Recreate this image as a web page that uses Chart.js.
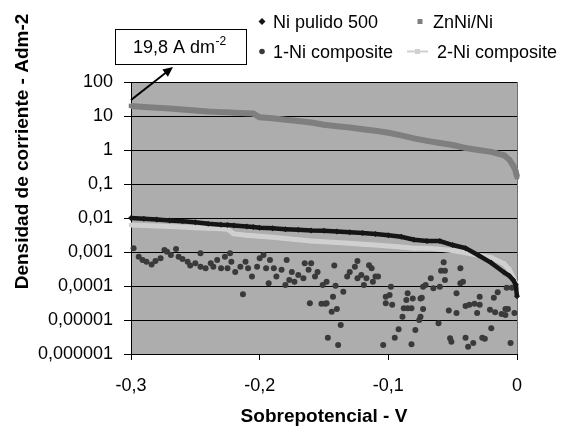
<!DOCTYPE html>
<html><head><meta charset="utf-8">
<script src="https://cdn.jsdelivr.net/npm/chart.js@4/dist/chart.umd.min.js"></script>
<style>html,body{margin:0;padding:0;background:#fff;}#wrap{width:563px;height:428px;}</style>
</head><body><div id="wrap"><canvas id="c" width="563" height="428"></canvas></div>
<script>
// ---------- data ----------
const potential = [-0.300,-0.290,-0.280,-0.270,-0.260,-0.250,-0.240,-0.230,-0.225,-0.220,-0.210,-0.205,-0.200,-0.190,-0.180,-0.170,-0.160,-0.150,-0.140,-0.130,-0.120,-0.110,-0.100,-0.090,-0.080,-0.070,-0.060,-0.050,-0.040,-0.030,-0.020,-0.010,-0.006,-0.003,-0.001,0.000];
const niPulido500 = [0.0100,0.0095,0.0090,0.0085,0.0080,0.0075,0.0068,0.0063,0.0062,0.0060,0.0056,0.0054,0.0052,0.0050,0.0047,0.0045,0.0043,0.0042,0.0040,0.0038,0.0036,0.0034,0.0031,0.0028,0.0023,0.0021,0.0021,0.0016,0.0013,0.0008,0.00048,0.00025,0.00020,0.00015,0.00011,0.00005];
const znNiNi = [19.8,18.5,17.5,16.5,15.5,14.5,13.5,13.0,12.8,12.5,12.0,11.8,9.2,8.6,7.8,7.1,6.4,5.5,5.0,4.6,4.1,3.7,3.2,2.7,2.2,1.85,1.6,1.4,1.15,1.0,0.88,0.70,0.52,0.35,0.24,0.16];
const niComposite2 = [0.0062,0.0060,0.0058,0.0056,0.0054,0.0052,0.0050,0.0048,0.0047,0.0034,0.0031,0.0030,0.0029,0.0027,0.0025,0.0023,0.0021,0.0020,0.0019,0.0018,0.0017,0.0016,0.0015,0.0014,0.0013,0.0013,0.0012,0.0011,0.00095,0.0008,0.00068,0.00045,0.00030,0.00018,0.00012,0.00009];
const comp1Potential = [-0.298,-0.294,-0.291,-0.288,-0.284,-0.281,-0.277,-0.274,-0.272,-0.269,-0.265,-0.263,-0.260,-0.256,-0.254,-0.250,-0.246,-0.246,-0.242,-0.238,-0.236,-0.233,-0.230,-0.227,-0.225,-0.223,-0.222,-0.219,-0.215,-0.211,-0.209,-0.206,-0.202,-0.200,-0.197,-0.195,-0.192,-0.189,-0.193,-0.187,-0.183,-0.179,-0.180,-0.177,-0.175,-0.173,-0.170,-0.166,-0.165,-0.162,-0.160,-0.157,-0.155,-0.151,-0.213,-0.161,-0.152,-0.149,-0.142,-0.148,-0.141,-0.135,-0.132,-0.130,-0.126,-0.124,-0.124,-0.121,-0.119,-0.117,-0.115,-0.113,-0.112,-0.110,-0.108,-0.098,-0.102,-0.099,-0.102,-0.097,-0.143,-0.148,-0.144,-0.140,-0.085,-0.086,-0.081,-0.088,-0.085,-0.082,-0.089,-0.075,-0.075,-0.076,-0.137,-0.147,-0.139,-0.104,-0.095,-0.092,-0.082,-0.079,-0.073,-0.057,-0.059,-0.056,-0.044,-0.067,-0.071,-0.065,-0.060,-0.056,-0.044,-0.047,-0.042,-0.074,-0.073,-0.053,-0.047,-0.040,-0.037,-0.033,-0.029,-0.029,-0.031,-0.021,-0.017,-0.018,-0.015,-0.012,-0.009,-0.007,-0.009,-0.002,-0.020,-0.061,-0.052,-0.051,-0.040,-0.034,-0.038,-0.027,-0.025,-0.005,-0.008,-0.004];
const comp1Current = [1.29e-3,7.3e-4,5.8e-4,5.2e-4,4.3e-4,5.4e-4,6.5e-4,1.15e-3,1.02e-3,8.2e-4,1.23e-3,7.3e-4,6.2e-4,5.2e-4,4.0e-4,4.7e-4,9.2e-4,3.7e-4,3.3e-4,4.7e-4,3.7e-4,5.8e-4,3.3e-4,7.3e-4,3.3e-4,9.2e-4,5.2e-4,2.6e-4,3.7e-4,5.2e-4,3.3e-4,1.9e-4,3.7e-4,6.5e-4,8.2e-4,3.3e-4,5.8e-4,3.3e-4,1.2e-4,1.9e-4,3.0e-4,5.8e-4,1.07e-4,1.5e-4,2.6e-4,1.34e-4,2.1e-4,1.7e-4,4.7e-4,3.0e-4,4.7e-4,1.9e-4,2.6e-4,1.07e-4,5.7e-5,3.1e-5,3.0e-5,3.0e-5,4.0e-4,1.34e-4,1.02e-4,6.8e-5,1.9e-4,2.6e-4,3.7e-4,5.4e-4,1.7e-4,2.1e-4,1.07e-4,1.7e-4,4.1e-4,3.3e-4,1.34e-4,1.9e-4,1.9e-4,9.5e-5,4.8e-5,5.4e-5,3.1e-5,2.8e-5,4.8e-5,3.1e-5,1.75e-5,2.1e-5,6.1e-5,3.9e-5,4.3e-5,2.2e-5,2.2e-5,2.2e-5,1.25e-5,4.3e-5,1.25e-5,1.0e-5,7.1e-6,3.0e-6,1.84e-6,1.84e-6,3.0e-6,5.3e-6,1.93e-6,5.1e-6,9.5e-5,5.0e-4,2.8e-4,2.8e-4,3.3e-4,1.7e-4,1.07e-4,8.6e-5,9.5e-5,1.5e-4,1.2e-4,6.1e-5,1.34e-4,4.5e-5,2.1e-5,1.9e-5,1.6e-5,2.6e-5,2.8e-5,3.0e-5,2.8e-5,4.8e-5,1.6e-5,2.0e-5,1.7e-5,4.5e-5,6.5e-5,1.5e-5,2.1e-5,2.1e-5,1.4e-5,1.6e-5,5.7e-6,8.0e-6,2.9e-6,2.3e-6,3.0e-6,2.1e-6,1.64e-6,3.0e-6,2.8e-6,2.1e-6,8.9e-5,8.9e-5];
const xTickValues = [-0.3,-0.2,-0.1,0];
const xTickLabels = ['-0,3','-0,2','-0,1','0'];
const yTickValues = [1e-6,1e-5,1e-4,1e-3,1e-2,1e-1,1,10,100];
const yTickLabels = ['0,000001','0,00001','0,0001','0,001','0,01','0,1','1','10','100'];
const seriesNames = ['Ni pulido 500','ZnNi/Ni','1-Ni composite','2-Ni composite'];
const xTitle = 'Sobrepotencial - V';
const yTitle = 'Densidad de corriente - Adm-2';
const annotationText = '19,8 A dm';
const annotationSup = '-2';
const annotatedPoint = {x: -0.3, y: 19.8};

// ---------- styling ----------
const FONT = '"Liberation Sans", Arial, sans-serif';
const colors = {pulido:'#151515', znni:'#7f7f7f', comp1:'#3a3a3a', comp2:'#d0d0d0'};

const pairs = (xs, ys) => xs.map((x, i) => ({x, y: ys[i]}));

const plotBg = {
  id: 'plotBg',
  beforeDraw(chart) {
    const {ctx, chartArea: a} = chart;
    ctx.save();
    ctx.fillStyle = '#fff';
    ctx.fillRect(0, 0, chart.width, chart.height);
    ctx.fillStyle = '#adadad';
    ctx.fillRect(a.left, a.top, a.right - a.left, a.bottom - a.top);
    ctx.restore();
  },
  beforeDatasetsDraw(chart) {
    const {ctx, chartArea: a} = chart;
    ctx.save();
    ctx.strokeStyle = '#6e6e6e';
    ctx.lineWidth = 1;
    ctx.beginPath();
    ctx.moveTo(Math.round(a.right) + 0.5, a.top);
    ctx.lineTo(Math.round(a.right) + 0.5, a.bottom);
    ctx.stroke();
    ctx.restore();
  }
};

const extras = {
  id: 'extras',
  afterDraw(chart) {
    const {ctx} = chart;
    const xs = chart.scales.x, ys = chart.scales.y;
    ctx.save();
    // y axis title
    ctx.save();
    ctx.translate(28.3, 151.5);
    ctx.rotate(-Math.PI / 2);
    ctx.font = 'bold 19px ' + FONT;
    ctx.fillStyle = '#000';
    ctx.textAlign = 'center';
    ctx.textBaseline = 'alphabetic';
    ctx.fillText(yTitle, 0, 0);
    ctx.restore();

    // legend
    ctx.font = '18px ' + FONT;
    ctx.fillStyle = '#000';
    ctx.textAlign = 'left';
    ctx.textBaseline = 'alphabetic';
    const rows = [27.5, 57.5];
    ctx.fillText(seriesNames[0], 273, rows[0]);
    ctx.fillText(seriesNames[1], 433, rows[0]);
    ctx.fillText(seriesNames[2], 273, rows[1]);
    ctx.fillText(seriesNames[3], 437, rows[1]);
    // markers
    const my0 = rows[0] - 6, my1 = rows[1] - 6;
    ctx.fillStyle = colors.pulido;
    ctx.beginPath();
    ctx.moveTo(262, my0 - 3.5); ctx.lineTo(265.5, my0); ctx.lineTo(262, my0 + 3.5); ctx.lineTo(258.5, my0);
    ctx.closePath(); ctx.fill();
    ctx.fillStyle = colors.znni;
    ctx.fillRect(417.5, my0 - 2.5, 5, 5);
    ctx.fillStyle = colors.comp1;
    ctx.beginPath(); ctx.arc(262, my1, 2.8, 0, Math.PI * 2); ctx.fill();
    ctx.strokeStyle = colors.comp2; ctx.lineWidth = 2;
    ctx.beginPath(); ctx.moveTo(407, my1); ctx.lineTo(428, my1); ctx.stroke();
    ctx.fillStyle = colors.comp2;
    ctx.fillRect(415, my1 - 2.5, 5, 5);

    // annotation box
    ctx.fillStyle = '#fff';
    ctx.fillRect(115.5, 29.5, 131, 35);
    ctx.strokeStyle = '#000'; ctx.lineWidth = 1;
    ctx.strokeRect(115.5, 29.5, 131, 35);
    ctx.fillStyle = '#000';
    ctx.font = '18px ' + FONT;
    ctx.fillText(annotationText, 133, 53);
    const w = ctx.measureText(annotationText).width;
    ctx.font = '12px ' + FONT;
    ctx.fillText(annotationSup, 133 + w + 0.5, 45);

    // arrow from data point to box
    const tx = xs.getPixelForValue(annotatedPoint.x);
    const ty = ys.getPixelForValue(annotatedPoint.y) - 6;
    const hx = tx + 42, hy = ty - 33;
    ctx.strokeStyle = '#000'; ctx.lineWidth = 2;
    ctx.beginPath(); ctx.moveTo(tx, ty); ctx.lineTo(hx - 5, hy + 4); ctx.stroke();
    const ang = Math.atan2(hy - ty, hx - tx);
    ctx.beginPath();
    ctx.moveTo(hx, hy);
    ctx.lineTo(hx - 10 * Math.cos(ang) + 4.5 * Math.sin(ang), hy - 10 * Math.sin(ang) - 4.5 * Math.cos(ang));
    ctx.lineTo(hx - 10 * Math.cos(ang) - 4.5 * Math.sin(ang), hy - 10 * Math.sin(ang) + 4.5 * Math.cos(ang));
    ctx.closePath(); ctx.fill();
    ctx.restore();
  }
};

new Chart(document.getElementById('c'), {
  type: 'scatter',
  data: {
    datasets: [
      {label: seriesNames[0], data: pairs(potential, niPulido500), showLine: true, borderColor: colors.pulido, borderWidth: 4.5,
       pointStyle: 'rectRot', pointRadius: 3, backgroundColor: colors.pulido, pointBorderWidth: 0, clip: false},
      {label: seriesNames[1], data: pairs(potential, znNiNi), showLine: true, borderColor: colors.znni, borderWidth: 6,
       pointStyle: 'rect', pointRadius: 3.2, backgroundColor: colors.znni, pointBorderWidth: 0, clip: false},
      {label: seriesNames[2], data: pairs(comp1Potential, comp1Current), showLine: false,
       pointStyle: 'circle', pointRadius: 3, backgroundColor: colors.comp1, pointBorderWidth: 0, clip: false},
      {label: seriesNames[3], data: pairs(potential, niComposite2), showLine: true, borderColor: colors.comp2, borderWidth: 5,
       pointStyle: 'rect', pointRadius: 3, backgroundColor: colors.comp2, pointBorderWidth: 0, clip: false}
    ]
  },
  options: {
    responsive: false,
    devicePixelRatio: 1,
    animation: false,
    events: [],
    layout: {padding: {left: 0, right: 46, top: 82, bottom: 0}},
    plugins: {legend: {display: false}, tooltip: {enabled: false}},
    scales: {
      x: {
        type: 'linear', min: -0.3, max: 0,
        afterBuildTicks: s => { s.ticks = xTickValues.map(v => ({value: v})); },
        afterFit: s => { s.height = 74; },
        ticks: {callback: v => xTickLabels[xTickValues.findIndex(t => Math.abs(t - v) < 1e-9)], color: '#000',
                font: {family: FONT, size: 18}, padding: 15, maxRotation: 0, autoSkip: false},
        grid: {drawOnChartArea: false, drawTicks: true, tickLength: 6, color: '#000', lineWidth: 1},
        border: {color: '#000', width: 1},
        title: {display: true, text: xTitle, color: '#000', font: {family: FONT, size: 19, weight: 'bold'}, padding: {top: 0, bottom: 0}}
      },
      y: {
        type: 'logarithmic', min: 1e-6, max: 100,
        afterBuildTicks: s => { s.ticks = yTickValues.map(v => ({value: v})); },
        afterFit: s => { s.width = 131; },
        ticks: {callback: v => yTickLabels[yTickValues.findIndex(t => Math.abs(Math.log10(t) - Math.log10(v)) < 1e-6)], color: '#000',
                font: {family: FONT, size: 18}, padding: 11, autoSkip: false},
        grid: {drawOnChartArea: true, drawTicks: true, tickLength: 7, color: '#000', lineWidth: 1},
        border: {color: '#000', width: 1}
      }
    }
  },
  plugins: [plotBg, extras]
});
</script></body></html>
